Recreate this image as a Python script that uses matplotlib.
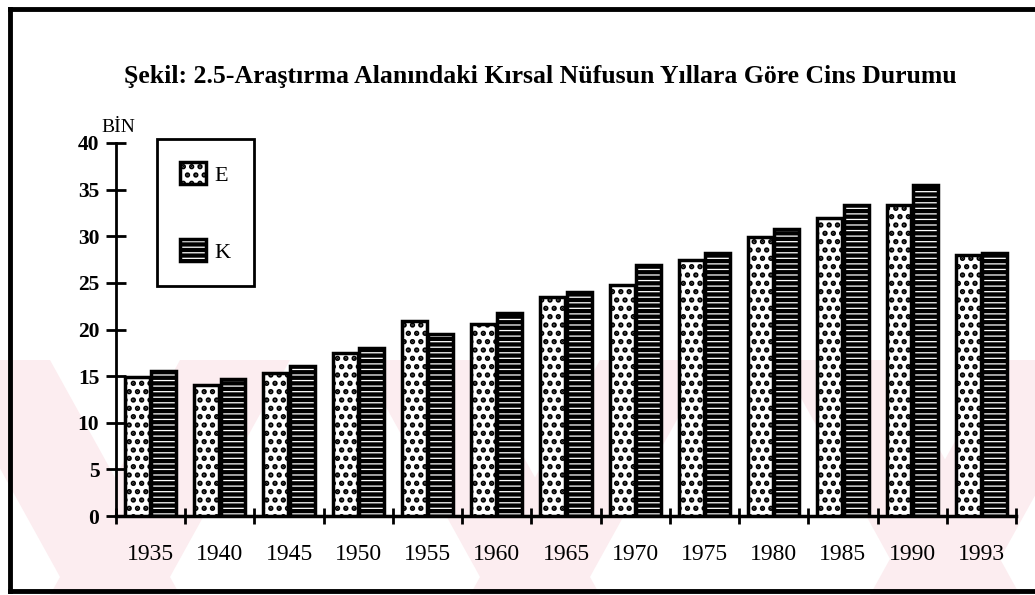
import matplotlib
matplotlib.use("Agg")
import matplotlib.pyplot as plt
import numpy as np
from matplotlib.patches import Patch, Polygon
from matplotlib.lines import Line2D
from matplotlib.legend_handler import HandlerTuple

plt.rcParams['font.family'] = ['Liberation Serif', 'DejaVu Serif']
plt.rcParams['hatch.linewidth'] = 1.4

# --- datos (bin kisi) ---
yillar = ['1935', '1940', '1945', '1950', '1955', '1960', '1965',
          '1970', '1975', '1980', '1985', '1990', '1993']
erkek = [14.9, 14.1, 15.3, 17.5, 20.9, 20.6, 23.5, 24.8, 27.4, 29.9, 32.0, 33.4, 28.0]
kadin = [15.6, 14.7, 16.1, 18.0, 19.5, 21.8, 24.0, 26.9, 28.2, 30.8, 33.4, 35.5, 28.2]
y_ticks = [0, 5, 10, 15, 20, 25, 30, 35, 40]

W, H = 1035, 595
fig = plt.figure(figsize=(W / 100, H / 100), dpi=100)

LW_NOKTA = 2.6   # E: kalin noktalar
LW_CIZGI = 0.9   # K: ince beyaz cizgiler


def hlw(artists, lw):
    for a in artists:
        if hasattr(a, 'set_hatch_linewidth'):
            a.set_hatch_linewidth(lw)


# filigran (soluk pembe seritler)
pembe = '#fcedf0'
for x0 in [-60, 360, 780]:
    fig.add_artist(Polygon([[x0 / W, 1 - 360 / H], [(x0 + 110) / W, 1 - 360 / H],
                            [(x0 + 240) / W, 0], [(x0 + 130) / W, 0]],
                           closed=True, transform=fig.transFigure,
                           facecolor=pembe, edgecolor='none', zorder=-1))
for x0 in [180, 600, 1000]:
    fig.add_artist(Polygon([[x0 / W, 1 - 360 / H], [(x0 + 110) / W, 1 - 360 / H],
                            [(x0 - 20) / W, 0], [(x0 - 130) / W, 0]],
                           closed=True, transform=fig.transFigure,
                           facecolor=pembe, edgecolor='none', zorder=-1))

ax = fig.add_axes([116 / W, 1 - 516 / H, 900 / W, 373 / H])
ax.patch.set_alpha(0)
ax.set_zorder(1)

x = np.arange(len(yillar)) + 0.5
w = 0.36

b_e = ax.bar(x - 0.19, erkek, w, facecolor='white', edgecolor='black', hatch='..', lw=2.5, zorder=3)
b_k = ax.bar(x + 0.19, kadin, w, facecolor='black', edgecolor='white', hatch='---', lw=0, zorder=3)
ax.bar(x + 0.19, kadin, w, fill=False, edgecolor='black', lw=2.5, zorder=4)
hlw(b_e, LW_NOKTA)
hlw(b_k, LW_CIZGI)

ax.set_xlim(0, len(yillar))
ax.set_ylim(0, 40)

for s in ['top', 'right']:
    ax.spines[s].set_visible(False)
ax.spines['left'].set_linewidth(2)
ax.spines['bottom'].set_linewidth(2.5)

ax.set_xticks(np.arange(len(yillar) + 1))
ax.set_xticklabels([])
ax.set_xticks(x, minor=True)
ax.set_xticklabels(yillar, minor=True, fontsize=17)
ax.tick_params(axis='x', which='major', direction='inout', length=12, width=2)
ax.tick_params(axis='x', which='minor', length=0, pad=20)

ax.set_yticks(y_ticks)
ax.set_yticklabels([str(v) for v in y_ticks], fontsize=15.5, fontweight='bold')
ax.tick_params(axis='y', direction='inout', length=14, width=2, pad=5)

# lejant
h_e = Patch(facecolor='white', edgecolor='black', hatch='..', lw=2.5)
h_k1 = Patch(facecolor='black', edgecolor='white', hatch='---', lw=0)
h_k2 = Patch(fill=False, edgecolor='black', lw=2.5)
leg = ax.legend([h_e, (h_k1, h_k2)], ['E', 'K'], handler_map={tuple: HandlerTuple()},
                loc='upper left', bbox_to_anchor=(157 / W, 1 - 139 / H),
                bbox_transform=fig.transFigure, borderaxespad=0, fontsize=16,
                handlelength=1.15, handleheight=1.15, handletextpad=0.4,
                labelspacing=2.4, borderpad=1.05, fancybox=False, framealpha=1)
leg.get_frame().set_edgecolor('black')
leg.get_frame().set_linewidth(2)
for p in leg.get_patches():
    if p.get_hatch() == '..':
        hlw([p], LW_NOKTA)
    else:
        hlw([p], LW_CIZGI)

fig.text(540 / W, 1 - 77 / H, 'Şekil: 2.5-Araştırma Alanındaki Kırsal Nüfusun Yıllara Göre Cins Durumu',
         ha='center', va='center', fontsize=18.5, fontweight='bold')
fig.text(118 / W, 1 - 127 / H, 'BİN', ha='center', va='center', fontsize=14)

# cerceve
for xs, ys in [([10, 10], [9, 591]), ([10, W], [9, 9]), ([10, W], [591, 591])]:
    fig.add_artist(Line2D([v / W for v in xs], [1 - v / H for v in ys], color='black',
                          lw=3.5, transform=fig.transFigure))

fig.savefig("out.png", dpi=100)
